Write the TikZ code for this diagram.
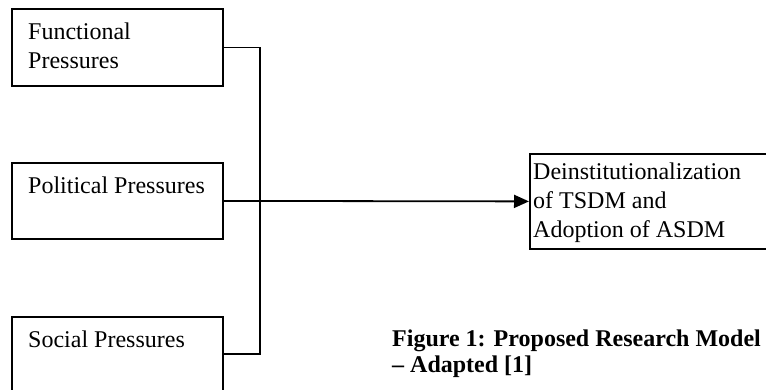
\documentclass[tikz,border=0pt]{standalone}
\usepackage{fontspec}
\setmainfont{Liberation Serif}
\usetikzlibrary{arrows.meta}
\tikzset{
  boxnode/.style={draw, line width=1.8pt, inner sep=0pt, anchor=north west},
  boxtext/.style={inner sep=0pt, anchor=base west, align=left, font=\fontsize{24}{29}\selectfont},
  captext/.style={inner sep=0pt, anchor=base west, align=left, font=\fontsize{24}{26}\selectfont\bfseries},
  conn/.style={line width=1.8pt},
  arrowconn/.style={line width=1.8pt, -{Triangle[length=15pt,width=13pt]}}
}
\begin{document}
\begin{tikzpicture}[x=1pt,y=-1pt]
\useasboundingbox (0,0) rectangle (766,389);
\clip (0,0) rectangle (766,389);
\node[boxnode, minimum width=211pt, minimum height=77pt] (fun) at (11,8) {};
\node[boxnode, minimum width=211pt, minimum height=76pt] (pol) at (11,162) {};
\node[boxnode, minimum width=211pt, minimum height=74pt] (soc) at (11,316) {};
\node[boxnode, minimum width=280pt, minimum height=95pt] (tgt) at (529,153) {};
\node[boxtext] (funt) at (28,68) {Functional\\Pressures};
\node[boxtext] (polt) at (28,193) {Political Pressures};
\node[boxtext] (soct) at (28,347) {Social Pressures};
\node[boxtext] (tgtt) at (533,237) {Deinstitutionalization\\of TSDM and\\Adoption of ASDM};
\node[captext] (cap) at (392,372) {Figure 1: Proposed Research Model\\– Adapted [1]};
\coordinate (bus) at (260,0);
\draw[conn] (fun.east) -| (bus |- soc.east) -- (soc.east);
\draw[arrowconn] (pol.east) -- (tgt.west);
\end{tikzpicture}
\end{document}
